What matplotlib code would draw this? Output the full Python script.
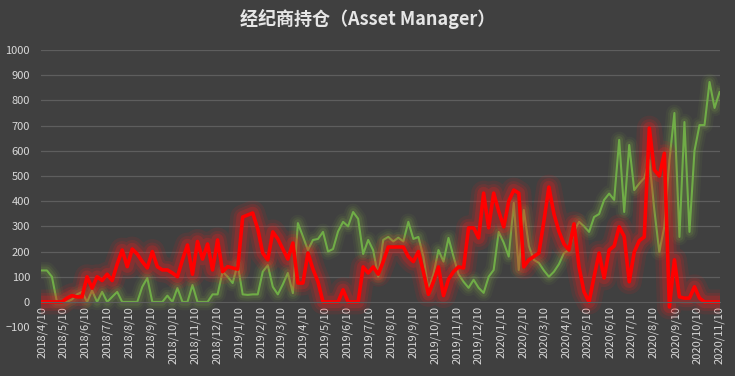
import numpy as np
import pandas as pd
import matplotlib
matplotlib.use('Agg')
import matplotlib.pyplot as plt

plt.rcParams['font.family'] = ['Noto Sans CJK SC', 'DejaVu Sans']

# 周度数据 2018/4/10 - 2020/11/10
dates = pd.date_range('2018-04-10', '2020-11-10', freq='7D')

green = [125, 125, 100, 0, 0, 0, 10, 30, 40, 0,
         45, 0, 40, 0, 20, 40, 0, 0, 0, 0,
         60, 95, 0, 0, 0, 25, 0, 55, 0, 0,
         67, 0, 0, 0, 30, 30, 120, 100, 75, 150,
         30, 28, 30, 30, 120, 146, 60, 30, 70, 115,
         35, 313, 260, 206, 246, 250, 278, 200, 210, 280,
         318, 300, 357, 330, 190, 246, 205, 100, 246, 258,
         240, 255, 240, 318, 250, 258, 180, 50, 110, 206,
         160, 254, 180, 110, 80, 56, 88, 56, 36, 100,
         127, 278, 235, 180, 393, 127, 365, 222, 167, 155,
         125, 100, 120, 150, 194, 206, 280, 318, 300, 278,
         337, 349, 405, 430, 405, 643, 357, 623, 444, 470,
         492, 563, 365, 198, 300, 560, 750, 258, 714, 278,
         600, 702, 702, 873, 770, 833]

red = [0, 0, 0, 0, 0, 15, 25, 20, 20, 100,
       55, 100, 85, 110, 85, 150, 206, 140, 210, 190,
       160, 135, 200, 140, 127, 127, 115, 100, 167, 226,
       110, 240, 170, 230, 127, 246, 120, 140, 135, 130,
       337, 345, 353, 290, 194, 167, 278, 250, 210, 170,
       234, 75, 75, 194, 130, 80, 0, 0, 0, 0,
       48, 0, 0, 0, 139, 115, 139, 110, 160, 218,
       218, 218, 218, 180, 160, 200, 120, 30, 80, 139,
       25, 90, 120, 139, 135, 294, 294, 254, 432, 294,
       432, 360, 298, 400, 444, 432, 139, 167, 180, 194,
       320, 456, 350, 280, 230, 206, 310, 139, 40, 0,
       100, 194, 95, 206, 222, 298, 260, 80, 198, 243,
       258, 690, 524, 500, 590, -20, 167, 20, 15, 15,
       60, 15, 0, 0, 0, 0]

tick_dates = pd.date_range('2018-04-10', '2020-11-10', freq=pd.DateOffset(months=1))
tick_labels = [f'{d.year}/{d.month}/{d.day}' for d in tick_dates]

bg = '#404040'
fig = plt.figure(figsize=(7.35, 3.76), dpi=100, facecolor=bg)
ax = fig.add_axes([0.056, 0.13, 0.924, 0.737], facecolor=bg)

for s in ['top', 'right', 'left']:
    ax.spines[s].set_visible(False)
ax.spines['bottom'].set_position(('data', 0))
ax.spines['bottom'].set_color('#5e5e5e')

# 发光效果
for lw, a in [(12, 0.06), (8.5, 0.09), (5.5, 0.13)]:
    ax.plot(dates, green, color='#8fc048', lw=lw, alpha=a, solid_joinstyle='round')
ax.plot(dates, green, color='#70AD47', lw=1.5, solid_joinstyle='round')

for lw, a in [(18, 0.09), (13, 0.13), (9, 0.2)]:
    ax.plot(dates, red, color='#ff1a1a', lw=lw, alpha=a, solid_joinstyle='round')
ax.plot(dates, red, color='#ff0000', lw=2.6, solid_joinstyle='round')

ax.set_ylim(-100, 1000)
ax.set_yticks(range(-100, 1001, 100))
ax.set_xlim(dates[0] - pd.Timedelta(days=1), dates[-1] + pd.Timedelta(days=1))
ax.set_xticks(tick_dates)
ax.set_xticklabels(tick_labels)

for y in range(100, 1001, 100):
    ax.axhline(y, color='#5e5e5e', lw=0.9, zorder=0)

ax.tick_params(axis='both', length=0, colors='#d9d9d9', labelsize=8)
ax.tick_params(axis='x', pad=3, labelrotation=90)
ax.tick_params(axis='y', pad=8)

fig.suptitle('经纪商持仓（Asset Manager）', x=0.5, y=0.975, color='#e6e6e6',
             fontsize=13, fontweight='bold')

fig.savefig('out.png', dpi=100, facecolor=bg)
